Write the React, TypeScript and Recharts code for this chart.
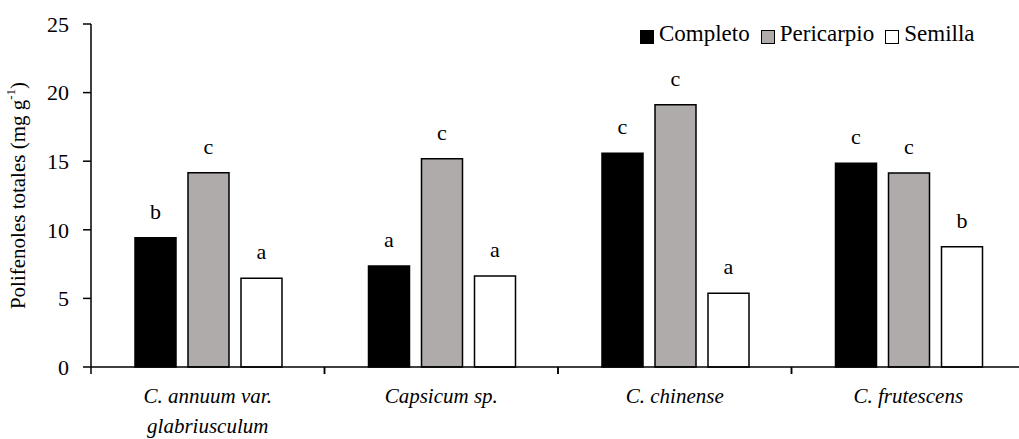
import { Bar, BarChart, LabelList, Legend, XAxis, YAxis } from "recharts";

const categories = ["C. annuum var.\nglabriusculum", "Capsicum sp.", "C. chinense", "C. frutescens"];
const completo = [9.42, 7.37, 15.58, 14.85];
const pericarpio = [14.16, 15.18, 19.12, 14.14];
const semilla = [6.47, 6.64, 5.38, 8.76];
const completoLetters = ["b", "a", "c", "c"];
const pericarpioLetters = ["c", "c", "c", "c"];
const semillaLetters = ["a", "a", "a", "b"];
const yTicks = [0, 5, 10, 15, 20, 25];

const FONT = "Liberation Serif, DejaVu Serif, Times New Roman, serif";

const data = categories.map((name, i) => ({
  name,
  completo: completo[i],
  pericarpio: pericarpio[i],
  semilla: semilla[i],
  lc: completoLetters[i],
  lp: pericarpioLetters[i],
  ls: semillaLetters[i],
}));

// Italic category labels plus tick marks at the band edges
function CategoryTick(props: any) {
  const { x, y, payload } = props;
  const half = payload?.offset ?? 0;
  const lines = String(payload.value).split("\n");
  return (
    <g>
      <line x1={x - half} x2={x - half} y1={y} y2={y + 7} stroke="#000" strokeWidth={1.5} />
      <line x1={x + half} x2={x + half} y1={y} y2={y + 7} stroke="#000" strokeWidth={1.5} />
      <text x={x} y={y + 36} textAnchor="middle" style={{ fontFamily: FONT }} fontStyle="italic" fontSize={21} fill="#000">
        {lines.map((l, i) => (
          <tspan key={i} x={x} dy={i === 0 ? 0 : 30}>
            {l}
          </tspan>
        ))}
      </text>
    </g>
  );
}

function YTitle(props: any) {
  const { viewBox } = props;
  const cx = viewBox.x + 18;
  const cy = viewBox.y + viewBox.height / 2;
  return (
    <text
      x={cx}
      y={cy}
      transform={`rotate(-90 ${cx} ${cy})`}
      textAnchor="middle"
      dominantBaseline="central"
      style={{ fontFamily: FONT }}
      fontSize={21}
      fill="#000"
    >
      Polifenoles totales (mg g
      <tspan fontSize={13} dy={-8}>-1</tspan>
      <tspan dy={8}>)</tspan>
    </text>
  );
}

function LegendContent(props: any) {
  const { payload = [] } = props;
  return (
    <div style={{ display: "flex", alignItems: "center", fontFamily: FONT, fontSize: 23, lineHeight: "24px" }}>
      {payload.map((p: any) => (
        <span key={p.value} style={{ display: "flex", alignItems: "center", marginRight: 11 }}>
          <span
            style={{
              display: "inline-block",
              width: 12,
              height: 12,
              background: p.color,
              border: "1.5px solid #000",
              marginRight: 5,
              position: "relative",
              top: 3,
            }}
          />
          {p.value}
        </span>
      ))}
    </div>
  );
}

export default function App() {
  return (
    <div style={{ position: "fixed", left: 0, top: 0, width: 1019, height: 439, overflow: "hidden", background: "#fff", fontFamily: FONT }}>
      <BarChart
        width={1035}
        height={439}
        data={data}
        margin={{ top: 24, right: 10, bottom: 0, left: 0 }}
        barCategoryGap={44}
        barGap={12}
        style={{ fontFamily: FONT }}
      >
        <XAxis
          dataKey="name"
          height={72}
          stroke="#000"
          strokeWidth={1.5}
          tickLine={false}
          tickSize={0}
          tickMargin={0}
          interval={0}
          tick={<CategoryTick />}
        />
        <YAxis
          width={91}
          domain={[0, 25]}
          ticks={yTicks}
          stroke="#000"
          strokeWidth={1.5}
          tickSize={8}
          tickMargin={14}
          tick={{ fill: "#000", fontSize: 22, style: { fontFamily: FONT } }}
          label={<YTitle />}
        />
        <Legend
          layout="horizontal"
          verticalAlign="middle"
          align="center"
          content={<LegendContent />}
          wrapperStyle={{ position: "absolute", top: 22, left: 640, width: "auto", height: "auto" }}
        />
        <Bar dataKey="completo" name="Completo" fill="#000" stroke="#000" strokeWidth={1.5} isAnimationActive={false}>
          <LabelList dataKey="lc" position="top" offset={19} fill="#000" fontSize={22} style={{ fontFamily: FONT }} />
        </Bar>
        <Bar dataKey="pericarpio" name="Pericarpio" fill="#AEABAA" stroke="#000" strokeWidth={1.5} isAnimationActive={false}>
          <LabelList dataKey="lp" position="top" offset={19} fill="#000" fontSize={22} style={{ fontFamily: FONT }} />
        </Bar>
        <Bar dataKey="semilla" name="Semilla" fill="#fff" stroke="#000" strokeWidth={1.5} isAnimationActive={false}>
          <LabelList dataKey="ls" position="top" offset={19} fill="#000" fontSize={22} style={{ fontFamily: FONT }} />
        </Bar>
      </BarChart>
    </div>
  );
}
